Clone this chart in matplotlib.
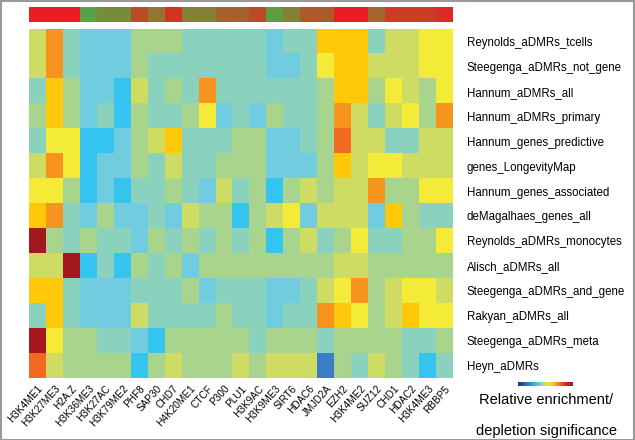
import numpy as np
import matplotlib
matplotlib.use("Agg")
import matplotlib.pyplot as plt
from matplotlib.colors import ListedColormap, LinearSegmentedColormap
from matplotlib.patches import Rectangle

plt.rcParams['font.family'] = ['Liberation Sans', 'DejaVu Sans']

columns = ["H3K4ME1", "H3K27ME3", "H2A.Z", "H3K36ME3", "H3K27AC", "H3K79ME2", "PHF8",
           "SAP30", "CHD7", "H4K20ME1", "CTCF", "P300", "PLU1", "H3K9AC", "H3K9ME3",
           "SIRT6", "HDAC6", "JMJD2A", "EZH2", "H3K4ME2", "SUZ12", "CHD1", "HDAC2",
           "H3K4ME3", "RBBP5"]

rows = ["Reynolds_aDMRs_tcells", "Steegenga_aDMRs_not_gene", "Hannum_aDMRs_all",
        "Hannum_aDMRs_primary", "Hannum_genes_predictive", "genes_LongevityMap",
        "Hannum_genes_associated", "deMagalhaes_genes_all", "Reynolds_aDMRs_monocytes",
        "Alisch_aDMRs_all", "Steegenga_aDMRs_and_gene", "Rakyan_aDMRs_all",
        "Steegenga_aDMRs_meta", "Heyn_aDMRs"]

# significance level per cell (0 = strongest depletion, 10 = strongest enrichment)
values = [
    [5, 8, 3, 2, 2, 2, 4, 4, 4, 3, 3, 3, 3, 3, 2, 3, 3, 7, 7, 7, 3, 5, 5, 6, 6],
    [5, 8, 3, 2, 2, 2, 4, 3, 3, 3, 3, 3, 3, 3, 2, 2, 3, 6, 7, 7, 5, 5, 5, 6, 6],
    [3, 7, 4, 2, 2, 1, 5, 3, 4, 3, 8, 3, 3, 3, 3, 3, 3, 4, 7, 7, 4, 6, 5, 4, 6],
    [4, 7, 4, 2, 3, 1, 4, 3, 3, 4, 6, 2, 3, 2, 4, 3, 3, 4, 8, 5, 3, 5, 6, 4, 8],
    [3, 6, 6, 1, 1, 2, 4, 5, 7, 3, 3, 3, 4, 4, 2, 2, 3, 4, 9, 5, 5, 3, 3, 5, 5],
    [5, 8, 6, 1, 2, 2, 4, 3, 5, 3, 3, 4, 4, 4, 2, 2, 2, 4, 7, 5, 6, 6, 5, 5, 5],
    [6, 6, 4, 1, 2, 1, 3, 3, 4, 3, 2, 5, 3, 4, 1, 4, 5, 4, 5, 5, 8, 4, 4, 6, 6],
    [7, 8, 3, 2, 4, 2, 2, 3, 2, 5, 4, 4, 1, 4, 5, 6, 2, 5, 5, 5, 2, 7, 4, 3, 3],
    [10, 4, 3, 4, 3, 3, 2, 4, 3, 4, 3, 4, 3, 4, 1, 4, 5, 3, 4, 6, 3, 3, 4, 4, 6],
    [5, 5, 10, 1, 3, 1, 4, 3, 4, 2, 4, 4, 4, 4, 4, 4, 4, 4, 5, 5, 4, 4, 4, 4, 4],
    [7, 7, 3, 2, 2, 2, 3, 3, 3, 4, 2, 3, 3, 3, 2, 2, 3, 5, 6, 8, 4, 5, 6, 6, 5],
    [3, 7, 3, 2, 2, 2, 5, 3, 3, 3, 3, 4, 3, 3, 2, 3, 3, 8, 7, 6, 4, 5, 7, 6, 6],
    [10, 6, 4, 4, 3, 3, 2, 1, 4, 4, 4, 4, 4, 3, 4, 4, 4, 3, 4, 4, 4, 4, 3, 3, 4],
    [9, 5, 4, 4, 4, 4, 1, 4, 5, 4, 4, 4, 5, 4, 5, 5, 5, 0, 4, 3, 5, 4, 3, 1, 3],
]

# column annotation bar (0 = green, 1 = red)
top_bar = [1.0, 1.0, 1.0, 0.0, 0.2, 0.2, 0.7, 0.4, 0.85, 0.3, 0.3, 0.55, 0.55,
           0.7, 0.05, 0.3, 0.6, 0.6, 1.0, 1.0, 0.5, 0.8, 0.8, 0.8, 0.9]

level_colors = ["#3B7CC6", "#35C3F0", "#72CCE0", "#8AD1BE", "#A9D48E", "#CFDC64",
                "#F4EA38", "#FFC90A", "#F7941D", "#F26A22", "#A3181E"]
cmap = ListedColormap(level_colors)
bar_cmap = LinearSegmentedColormap.from_list("gr", ["#5AA046", "#8A7E36", "#B5502B", "#EC1C25"])
cb_cmap = LinearSegmentedColormap.from_list(
    "cb", ["#262B7A", "#2F6DB5", "#2BB5E8", "#9BD3B0", "#F2E830", "#F7941D", "#E0262A", "#9E1B20"])

W, H = 635, 440
fig = plt.figure(figsize=(W / 100, H / 100), dpi=100)

left, right = 29 / W, 453 / W
ax = fig.add_axes([left, 1 - 378 / H, right - left, (378 - 29) / H])
ax.imshow(np.array(values), cmap=cmap, vmin=-0.5, vmax=10.5, aspect='auto',
          interpolation='nearest')
ax.set_xticks(range(len(columns)))
ax.set_xticklabels(columns, rotation=48, ha='right', va='top', rotation_mode='anchor',
                   fontsize=7.2)
ax.tick_params(axis='x', length=0, pad=4)
ax.yaxis.tick_right()
ax.set_yticks(range(len(rows)))
ax.set_yticklabels(rows, fontsize=8.3)
ax.tick_params(axis='y', length=0, pad=10)
for s in ax.spines.values():
    s.set_visible(False)

axt = fig.add_axes([left, 1 - 22 / H, right - left, 15 / H])
axt.imshow(np.array([top_bar]), cmap=bar_cmap, vmin=0, vmax=1, aspect='auto',
           interpolation='nearest')
axt.set_axis_off()

axc = fig.add_axes([518 / W, 1 - 386 / H, 55 / W, 4 / H])
axc.imshow(np.linspace(0, 1, 256)[None, :], cmap=cb_cmap, aspect='auto')
axc.set_axis_off()

fig.text(546 / W, 1 - 400 / H, "Relative enrichment/", ha='center', va='center',
         fontsize=10.5)
fig.text(546 / W, 1 - 431 / H, "depletion significance", ha='center', va='center',
         fontsize=10.5)

fig.patches.append(Rectangle((0.001, 0.001), 0.997, 0.997, transform=fig.transFigure,
                             fill=False, edgecolor="#9A9A9A", linewidth=1.5))

fig.savefig("out.png", dpi=100)
